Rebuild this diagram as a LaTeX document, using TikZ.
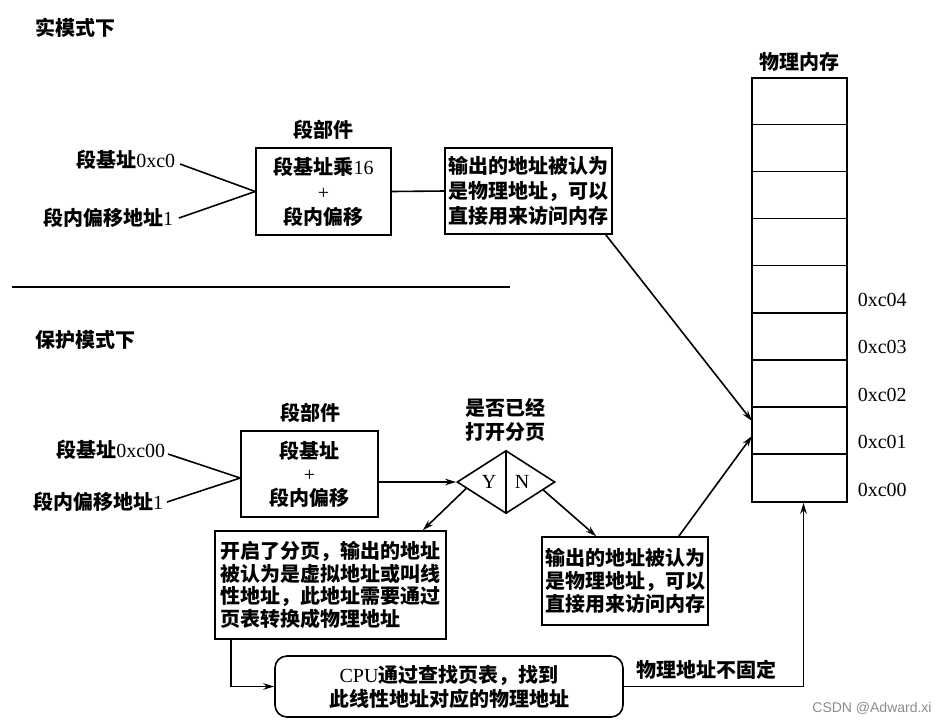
\documentclass[tikz,border=0pt]{standalone}
\usepackage{fontspec}
\setmainfont{Liberation Serif}
\newfontfamily\cjkfont{Noto Sans CJK SC}
\newfontfamily\wmfont{Liberation Sans}
\newcommand\C[1]{{\cjkfont\bfseries #1}}
\usetikzlibrary{shapes.geometric,arrows.meta,calc}
\begin{document}
\begin{tikzpicture}[x=1pt,y=-1pt, line width=1.6pt,
  box/.style={draw, inner sep=0pt, align=center, font=\fontsize{20}{25}\selectfont},
  txt/.style={inner sep=0pt, font=\fontsize{20}{25}\selectfont},
  arr/.style={-{Stealth[length=11pt,width=6.5pt]}}]
\useasboundingbox[fill=white] (0,0) rectangle (944,724);

% titles
\node[txt, anchor=west] (t1) at (35,28) {\C{实模式下}};
\node[txt, anchor=west] (t2) at (35,340) {\C{保护模式下}};
\draw (12,287) -- (510,287);

% ---- real mode ----
\node[txt] (seg1) at (323,130) {\C{段部件}};
\node[box, minimum width=135pt, minimum height=87pt] (b1) at (323.5,191.5)
  {\C{段基址乘}16\\+\\\C{段内偏移}};
\node[txt, anchor=east] (in1) at (176,160) {\C{段基址}0xc0};
\node[txt, anchor=east] (in2) at (174,218) {\C{段内偏移地址}1};
\draw ([xshift=4pt,yshift=-4pt]in1.east) -- (b1.west);
\draw ([xshift=5pt]in2.east) -- (b1.west);
\node[box, minimum width=167pt, minimum height=86pt] (o1) at (528.5,191)
  {\C{输出的地址被认为}\\\C{是物理地址，可以}\\\C{直接用来访问内存}};
\draw (b1.east) -- (o1.west);

% ---- memory ----
\node[draw, minimum width=95pt, minimum height=424pt, inner sep=0pt] (mem) at (799.5,290) {};
\foreach \i in {1,...,8} {
  \draw ([yshift=-47.11*\i pt]mem.north west) -- ([yshift=-47.11*\i pt]mem.north east);
}
\node[txt] (memt) at (799.5,62) {\C{物理内存}};
\node[txt, anchor=west] (a4) at (857,300) {0xc04};
\node[txt, anchor=west] (a3) at (857,347) {0xc03};
\node[txt, anchor=west] (a2) at (857,395) {0xc02};
\node[txt, anchor=west] (a1) at (857,442) {0xc01};
\node[txt, anchor=west] (a0) at (857,490) {0xc00};
\coordinate (m1) at (752,421);
\coordinate (m2) at (752,436);
\draw[arr] ([xshift=-7pt]o1.south east) -- (m1);

% ---- protected mode ----
\node[txt] (seg2) at (310,413) {\C{段部件}};
\node[box, minimum width=137pt, minimum height=86pt, font=\fontsize{20}{23.5}\selectfont] (b3) at (309.5,474)
  {\C{段基址}\\+\\\C{段内偏移}};
\node[txt, anchor=east] (in3) at (166,450) {\C{段基址}0xc00};
\node[txt, anchor=east] (in4) at (164,502) {\C{段内偏移地址}1};
\draw ([xshift=2pt,yshift=-4pt]in3.east) -- ([yshift=-4pt]b3.west);
\draw ([xshift=3pt]in4.east) -- ([yshift=-4pt]b3.west);

\node[draw, diamond, aspect=1.55, minimum width=98pt, minimum height=63pt, inner sep=0pt] (dia) at (506,482) {};
\draw (dia.north) -- (dia.south);
\node[txt] (y) at (489,482) {Y};
\node[txt] (n) at (522,482) {N};
\node[txt, align=center, font=\fontsize{20}{24}\selectfont] (q) at (505,420) {\C{是否已经}\\\C{打开分页}};
\draw[arr] (dia.west -| b3.east) -- (dia.west);

\node[box, align=left, minimum width=231pt, minimum height=108pt, font=\fontsize{20}{22.5}\selectfont] (b4) at (330.5,585)
  {\C{开启了分页，输出的地址}\\\C{被认为是虚拟地址或叫线}\\\C{性地址，此地址需要通过}\\\C{页表转换成物理地址}};
\node[box, minimum width=166pt, minimum height=88pt, font=\fontsize{20}{23}\selectfont] (o2) at (625,581)
  {\C{输出的地址被认为}\\\C{是物理地址，可以}\\\C{直接用来访问内存}};
\draw[arr] ($(dia.west)!0.2!(dia.south)$) -- ([xshift=-24pt]b4.north east);
\draw[arr] ($(dia.south)!0.75!(dia.east)$) -- ([xshift=55pt]o2.north west);
\draw[arr] ([xshift=-30pt]o2.north east) -- (m2);

\node[box, rounded corners=12pt, minimum width=348pt, minimum height=61pt, font=\fontsize{20}{24}\selectfont] (rb) at (449,686.5)
  {CPU\C{通过查找页表，找到}\\\C{此线性地址对应的物理地址}};
\draw[arr] ([xshift=17pt]b4.south west) |- (rb.west);
\draw[arr] (rb.east) -| ([xshift=4pt]mem.south);
\node[txt] (fix) at (706,670) {\C{物理地址不固定}};

\node[inner sep=0pt, text=black!45, font=\wmfont\fontsize{14}{16}\selectfont] (wm) at (872,708) {CSDN @Adward.xi};
\end{tikzpicture}
\end{document}
